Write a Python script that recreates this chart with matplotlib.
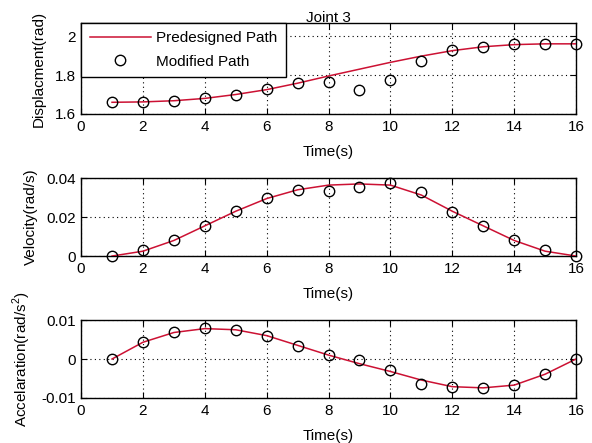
import matplotlib
matplotlib.use('Agg')
import matplotlib.pyplot as plt

plt.rcParams['font.family'] = ['Liberation Sans', 'DejaVu Sans']
plt.rcParams['mathtext.fontset'] = 'custom'
plt.rcParams['mathtext.rm'] = 'Liberation Sans'

# time samples
t = [1, 2, 3, 4, 5, 6, 7, 8, 9, 10, 11, 12, 13, 14, 15, 16]

# displacement (rad)
disp_plan = [1.660, 1.662, 1.668, 1.680, 1.700, 1.725, 1.758, 1.795, 1.830,
             1.865, 1.897, 1.925, 1.945, 1.956, 1.960, 1.960]
disp_mod = [1.660, 1.660, 1.667, 1.680, 1.698, 1.728, 1.758, 1.764, 1.723,
            1.774, 1.872, 1.930, 1.945, 1.959, 1.960, 1.960]

# velocity (rad/s)
vel_plan = [0.0, 0.0025, 0.0080, 0.0155, 0.0230, 0.0295, 0.0340, 0.0364, 0.0370,
            0.0364, 0.0313, 0.0230, 0.0155, 0.0080, 0.0025, 0.0]
vel_mod = [0.0, 0.0030, 0.0082, 0.0155, 0.0230, 0.0296, 0.0338, 0.0333, 0.0355,
           0.0376, 0.0327, 0.0227, 0.0154, 0.0082, 0.0030, 0.0]

# acceleration (rad/s^2)
acc_plan = [0.0, 0.0043, 0.0068, 0.0078, 0.0075, 0.0060, 0.0035, 0.0010, -0.0012,
            -0.0032, -0.0054, -0.0071, -0.0074, -0.0067, -0.0039, 0.0]
acc_mod = [0.0, 0.0043, 0.0070, 0.0079, 0.0074, 0.0060, 0.0033, 0.0010, -0.0003,
           -0.0028, -0.0064, -0.0071, -0.0074, -0.0067, -0.0039, 0.0]

red = '#cc1133'
fs = 11

fig = plt.figure(figsize=(5.92, 4.43), dpi=100)
ax1 = fig.add_axes([0.137, 0.7427, 0.836, 0.2054])
ax2 = fig.add_axes([0.137, 0.422, 0.836, 0.176])
ax3 = fig.add_axes([0.137, 0.1016, 0.836, 0.176])

panels = [
    (ax1, disp_plan, disp_mod, (1.6, 2.067), [1.6, 1.8, 2.0], ['1.6', '1.8', '2'], 'Displacment(rad)'),
    (ax2, vel_plan, vel_mod, (0, 0.04), [0, 0.02, 0.04], ['0', '0.02', '0.04'], 'Velocity(rad/s)'),
    (ax3, acc_plan, acc_mod, (-0.01, 0.01), [-0.01, 0, 0.01], ['-0.01', '0', '0.01'],
     r'Accelaration(rad/s$^2$)'),
]

for ax, plan, mod, ylim, yt, ytl, ylab in panels:
    ax.plot(t, plan, color=red, lw=1.1, label='Predesigned Path', zorder=3)
    ax.plot(t, mod, 'o', mfc='none', mec='black', ms=7.5, mew=1.0,
            label='Modified Path', zorder=4, clip_on=False)
    ax.set_xlim(0, 16)
    ax.set_ylim(*ylim)
    ax.set_xticks(range(0, 17, 2))
    ax.set_yticks(yt)
    ax.set_yticklabels(ytl)
    ax.grid(True, color='black', linestyle=(0, (1, 3)), linewidth=0.8)
    ax.tick_params(direction='in', top=True, right=True, length=4, width=0.8,
                   labelsize=fs, pad=4)
    for s in ax.spines.values():
        s.set_linewidth(1.0)
    ax.set_xlabel('Time(s)', fontsize=fs, labelpad=8)
    ax.set_ylabel(ylab, fontsize=fs, labelpad=6)

ax1.set_title('Joint 3', fontsize=fs, pad=1)
leg = ax1.legend(loc='upper left', bbox_to_anchor=(0, 1), borderaxespad=0,
                 fontsize=fs, handlelength=4.0, handletextpad=0.35, fancybox=False,
                 framealpha=1, edgecolor='black', labelspacing=0.6, borderpad=0.55)
leg.get_frame().set_linewidth(1.0)

fig.savefig('out.png', dpi=100)
